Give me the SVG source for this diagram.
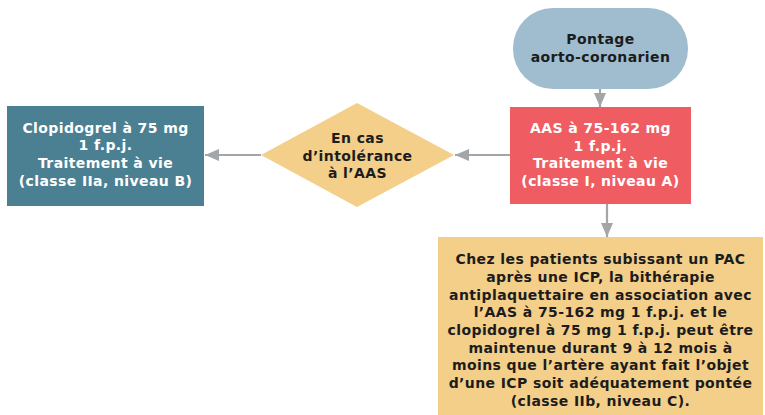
<svg xmlns="http://www.w3.org/2000/svg" width="765" height="415" viewBox="0 0 765 415">
  <style>
    text { font-family: "DejaVu Sans", Verdana, sans-serif; font-weight: bold; font-size: 14px; letter-spacing: 0.4px; text-anchor: middle; }
    .dark { fill: #1c1c1c; }
    .light { fill: #ffffff; }
    .link { stroke: #a3a6a9; stroke-width: 2.2; fill: none; marker-end: url(#head); }
  </style>
  <defs>
    <marker id="head" viewBox="0 0 14 12" refX="14" refY="6" markerWidth="14" markerHeight="12" markerUnits="userSpaceOnUse" orient="auto">
      <path d="M0,0 L14,6 L0,12 Z" fill="#a3a6a9"/>
    </marker>
  </defs>

  <g id="connectors">
    <line class="link" x1="600" y1="89" x2="600" y2="107"/>
    <line class="link" x1="607" y1="204" x2="607" y2="237"/>
    <line class="link" x1="510" y1="155" x2="455" y2="155"/>
    <line class="link" x1="261" y1="155" x2="205" y2="155"/>
  </g>

  <g id="pontage">
    <rect x="513" y="8" width="175" height="81" rx="40" ry="40" fill="#9fbdcf"/>
    <text class="dark" x="600.5" y="44">Pontage</text>
    <text class="dark" x="600.5" y="62">aorto-coronarien</text>
  </g>

  <g id="aas">
    <rect x="510" y="107" width="181" height="97" fill="#ef5d63"/>
    <text class="light" x="600.5" y="133">AAS à 75-162 mg</text>
    <text class="light" x="600.5" y="151">1 f.p.j.</text>
    <text class="light" x="600.5" y="168">Traitement à vie</text>
    <text class="light" x="600.5" y="186">(classe I, niveau A)</text>
  </g>

  <g id="intolerance">
    <polygon points="357,103 454,155 357,207 261,155" fill="#f4cf89"/>
    <text class="dark" x="357.5" y="143">En cas</text>
    <text class="dark" x="357.5" y="161">d’intolérance</text>
    <text class="dark" x="357.5" y="178">à l’AAS</text>
  </g>

  <g id="clopidogrel">
    <rect x="7" y="106" width="197" height="100" fill="#4b7f92"/>
    <text class="light" x="105.5" y="133">Clopidogrel à 75 mg</text>
    <text class="light" x="105.5" y="150">1 f.p.j.</text>
    <text class="light" x="105.5" y="168">Traitement à vie</text>
    <text class="light" x="105.5" y="186">(classe IIa, niveau B)</text>
  </g>

  <g id="bitherapie">
    <rect x="438" y="237" width="325" height="178" fill="#f4cf89"/>
    <text class="dark" x="600.5" y="264">Chez les patients subissant un PAC</text>
    <text class="dark" x="600.5" y="281.5">après une ICP, la bithérapie</text>
    <text class="dark" x="600.5" y="299.5">antiplaquettaire en association avec</text>
    <text class="dark" x="600.5" y="317">l’AAS à 75-162 mg 1 f.p.j. et le</text>
    <text class="dark" x="600.5" y="335">clopidogrel à 75 mg 1 f.p.j. peut être</text>
    <text class="dark" x="600.5" y="352.5">maintenue durant 9 à 12 mois à</text>
    <text class="dark" x="600.5" y="370">moins que l’artère ayant fait l’objet</text>
    <text class="dark" x="600.5" y="388">d’une ICP soit adéquatement pontée</text>
    <text class="dark" x="600.5" y="405.5">(classe IIb, niveau C).</text>
  </g>
</svg>
